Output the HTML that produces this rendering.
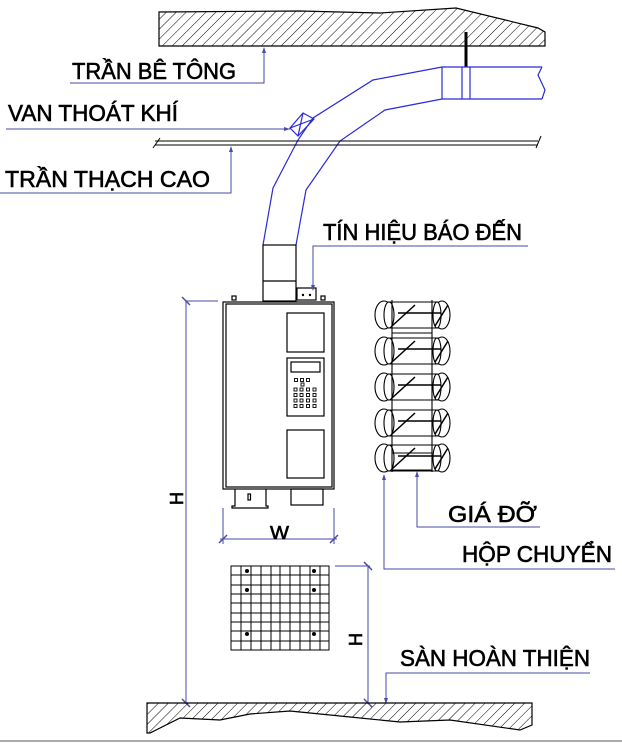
<!DOCTYPE html>
<html><head><meta charset="utf-8"><style>
html,body{margin:0;padding:0;background:#fff;width:622px;height:743px;overflow:hidden}
svg{display:block}
text{font-family:"Liberation Sans","DejaVu Sans",sans-serif;font-size:23px;fill:#000;stroke:#000;stroke-width:0.6}
</style></head><body>
<svg width="622" height="743" viewBox="0 0 622 743" xmlns="http://www.w3.org/2000/svg">
<defs>
<pattern id="h" width="7" height="7" patternUnits="userSpaceOnUse" patternTransform="rotate(45)">
<line x1="0" y1="0" x2="0" y2="7" stroke="#000" stroke-width="1"/>
</pattern>
</defs>
<path d="M159,12 L300,11 L380,13 L456,8 L538,28 L545,32 L545,46 L159,46 Z" fill="url(#h)" stroke="#000" stroke-width="1.2"/>
<line x1="466" y1="32" x2="466" y2="67" stroke="#000" stroke-width="3"/>
<g fill="none" stroke="#2a2ad8" stroke-width="1.2">
<path d="M542,67 L442,67 L373,80 L313,118 L298,140 L273,188 L263,245"/>
<path d="M542,99 L442,99 L385,110 L340,141 L306,190 L296,245"/>
<path d="M542,67 L538,75 L545,90 L542,99"/>
<line x1="442" y1="67" x2="442" y2="99"/>
<line x1="462" y1="67" x2="462" y2="99"/>
<line x1="470" y1="67" x2="470" y2="99"/>
<path d="M290,128 L303,113 L314,119 L298,136 Z M303,113 L298,136 M290,128 L314,119"/>
</g>
<g stroke="#000" stroke-width="1" fill="none">
<line x1="155" y1="141" x2="538" y2="141"/>
<line x1="155" y1="145" x2="538" y2="145"/>
<line x1="153" y1="148" x2="160" y2="138"/>
<line x1="536" y1="148" x2="541" y2="136"/>
</g>
<g fill="#fff" stroke="#000" stroke-width="1.2">
<rect x="263" y="245" width="33" height="56"/>
<line x1="263" y1="281" x2="296" y2="281"/>
<rect x="297" y="288" width="19" height="12"/>
</g>
<circle cx="303" cy="295" r="1.2"/><circle cx="310" cy="295" r="1.2"/>
<g fill="none" stroke="#4a4aa8" stroke-width="1">
<polyline points="70,83 264,83 264,48"/>
<polyline points="6,129 290,129"/>
<polyline points="0,193 231,193 231,147"/>
<polyline points="528,246 313,246 313,290"/>
<polyline points="540,527 417,527 417,472"/>
<polyline points="615,569 384,569 384,475"/>
<polyline points="590,673 386,673 386,703"/>
<line x1="186" y1="300" x2="186" y2="704"/>
<line x1="186" y1="301" x2="218" y2="301"/>
<line x1="223" y1="508" x2="223" y2="544"/>
<line x1="334" y1="508" x2="334" y2="544"/>
<line x1="220" y1="539" x2="337" y2="539"/>
<line x1="335" y1="566" x2="370" y2="566"/>
<line x1="368" y1="566" x2="368" y2="704"/>
<line x1="186" y1="703" x2="368" y2="703"/>
</g>
<g stroke="#4a4aa8" stroke-width="1.5">
<line x1="182" y1="297" x2="190" y2="305"/><line x1="182" y1="699" x2="190" y2="707"/>
<line x1="219" y1="543" x2="227" y2="535"/><line x1="330" y1="543" x2="338" y2="535"/>
<line x1="364" y1="562" x2="372" y2="570"/><line x1="364" y1="699" x2="372" y2="707"/>
</g>
<g fill="#4a4aa8">
<path d="M264,47 l-2,6 h4z"/><path d="M231,146 l-2,6 h4z"/><path d="M290,129 l-6,-2 v4z"/>
<path d="M313,291 l-2,-6 h4z"/><path d="M417,471 l-2,6 h4z"/><path d="M384,474 l-2,6 h4z"/><path d="M386,704 l-2,-6 h4z"/>
</g>
<g fill="none" stroke="#000" stroke-width="1.2">
<rect x="223" y="302" width="111" height="187"/>
<rect x="226" y="304" width="106" height="183"/>
<rect x="232" y="296" width="4" height="4"/><rect x="321" y="296" width="4" height="4"/>
<rect x="287" y="313" width="37" height="39"/>
<rect x="287" y="358" width="37" height="58"/>
<rect x="291" y="362" width="29" height="10"/>
<rect x="287" y="430" width="37" height="48"/>
<path d="M235,489 V506 H232 V508 H268 V506 H266 V489"/>
<rect x="248" y="494" width="2.5" height="6"/>
<rect x="291" y="489" width="32" height="16"/>
</g>
<g fill="none" stroke="#000" stroke-width="0.9">
<rect x="294.5" y="378.5" width="3" height="3"/><rect x="300.5" y="378.5" width="3" height="3"/><rect x="306.5" y="378.5" width="3" height="3"/>
<rect x="301" y="383" width="3" height="3"/>
<rect x="294" y="388" width="3" height="3"/><rect x="300" y="388" width="3" height="3"/><rect x="306.5" y="388" width="3" height="3"/><rect x="313" y="388" width="3" height="3"/>
<rect x="294" y="393.5" width="3" height="3"/><rect x="300" y="393.5" width="3" height="3"/><rect x="306.5" y="393.5" width="3" height="3"/><rect x="313" y="393.5" width="3" height="3"/>
<rect x="294" y="399" width="3" height="3"/><rect x="300" y="399" width="3" height="3"/><rect x="306.5" y="399" width="3" height="3"/><rect x="313" y="399" width="3" height="3"/>
<rect x="294" y="404.5" width="3" height="3"/><rect x="300" y="404.5" width="3" height="3"/><rect x="306.5" y="404.5" width="3" height="3"/><rect x="313" y="404.5" width="3" height="3"/>
</g>
<g fill="#fff" stroke="#000" stroke-width="1.1">
<g id="row">
<line x1="388" y1="302" x2="440" y2="302"/><line x1="388" y1="328" x2="440" y2="328"/>
<ellipse cx="384" cy="315" rx="9" ry="14"/><ellipse cx="389" cy="315" rx="5" ry="13"/>
<ellipse cx="442" cy="315" rx="8" ry="14"/><ellipse cx="437" cy="315" rx="4" ry="13"/>
<line x1="392" y1="326" x2="415" y2="305" stroke-width="1.5"/>
<line x1="398" y1="313" x2="441" y2="313" stroke-width="1.5"/>
<line x1="435" y1="326" x2="448" y2="305" stroke-width="1.5"/>
</g>
<use href="#row" y="36"/><use href="#row" y="72"/><use href="#row" y="108"/><use href="#row" y="143"/>
<line x1="392" y1="300" x2="392" y2="472"/><line x1="432" y1="300" x2="432" y2="472"/>
<line x1="392" y1="333" x2="432" y2="333"/><line x1="392" y1="453" x2="432" y2="453"/>
<line x1="392" y1="470" x2="432" y2="470"/>
</g>
<g stroke="#000" stroke-width="1" fill="none">
<rect x="231" y="566" width="98" height="84"/>
<path d="M241,566V650M251,566V650M261,566V650M271,566V650M280,566V650M290,566V650M300,566V650M310,566V650M320,566V650"/>
<path d="M231,575H329M231,585H329M231,594H329M231,603H329M231,613H329M231,622H329M231,631H329M231,641H329"/>
</g>
<g fill="#000">
<circle cx="247" cy="571" r="2"/><circle cx="314" cy="571" r="2"/>
<circle cx="247" cy="590" r="2"/><circle cx="314" cy="590" r="2"/>
<circle cx="247" cy="634" r="2"/><circle cx="314" cy="634" r="2"/>
</g>
<path d="M147,703 L532,703 L532,725 L520,730 L450,720 L400,722 L350,717 L290,711 L250,714 L220,720 L180,718 L150,733 L147,733 Z" fill="url(#h)" stroke="#000" stroke-width="1.2"/>
<line x1="0" y1="741" x2="622" y2="741" stroke="#aaa" stroke-width="2"/>
<text x="72" y="79" textLength="164" lengthAdjust="spacingAndGlyphs">TRẦN BÊ TÔNG</text>
<text x="8" y="121" textLength="170" lengthAdjust="spacingAndGlyphs">VAN THOÁT KHÍ</text>
<text x="5" y="187" textLength="205" lengthAdjust="spacingAndGlyphs">TRẦN THẠCH CAO</text>
<text x="323" y="240" textLength="199" lengthAdjust="spacingAndGlyphs">TÍN HIỆU BÁO ĐẾN</text>
<text x="448" y="522" textLength="89" lengthAdjust="spacingAndGlyphs">GIÁ ĐỠ</text>
<text x="462" y="562" textLength="150" lengthAdjust="spacingAndGlyphs">HỘP CHUYỂN</text>
<text x="400" y="666" textLength="190" lengthAdjust="spacingAndGlyphs">SÀN HOÀN THIỆN</text>
<text x="270" y="539" style="font-size:18px" textLength="19" lengthAdjust="spacingAndGlyphs">W</text>
<text transform="translate(183,505) rotate(-90)" style="font-size:18px">H</text>
<text transform="translate(362,646) rotate(-90)" style="font-size:18px">H</text>
</svg>
</body></html>
